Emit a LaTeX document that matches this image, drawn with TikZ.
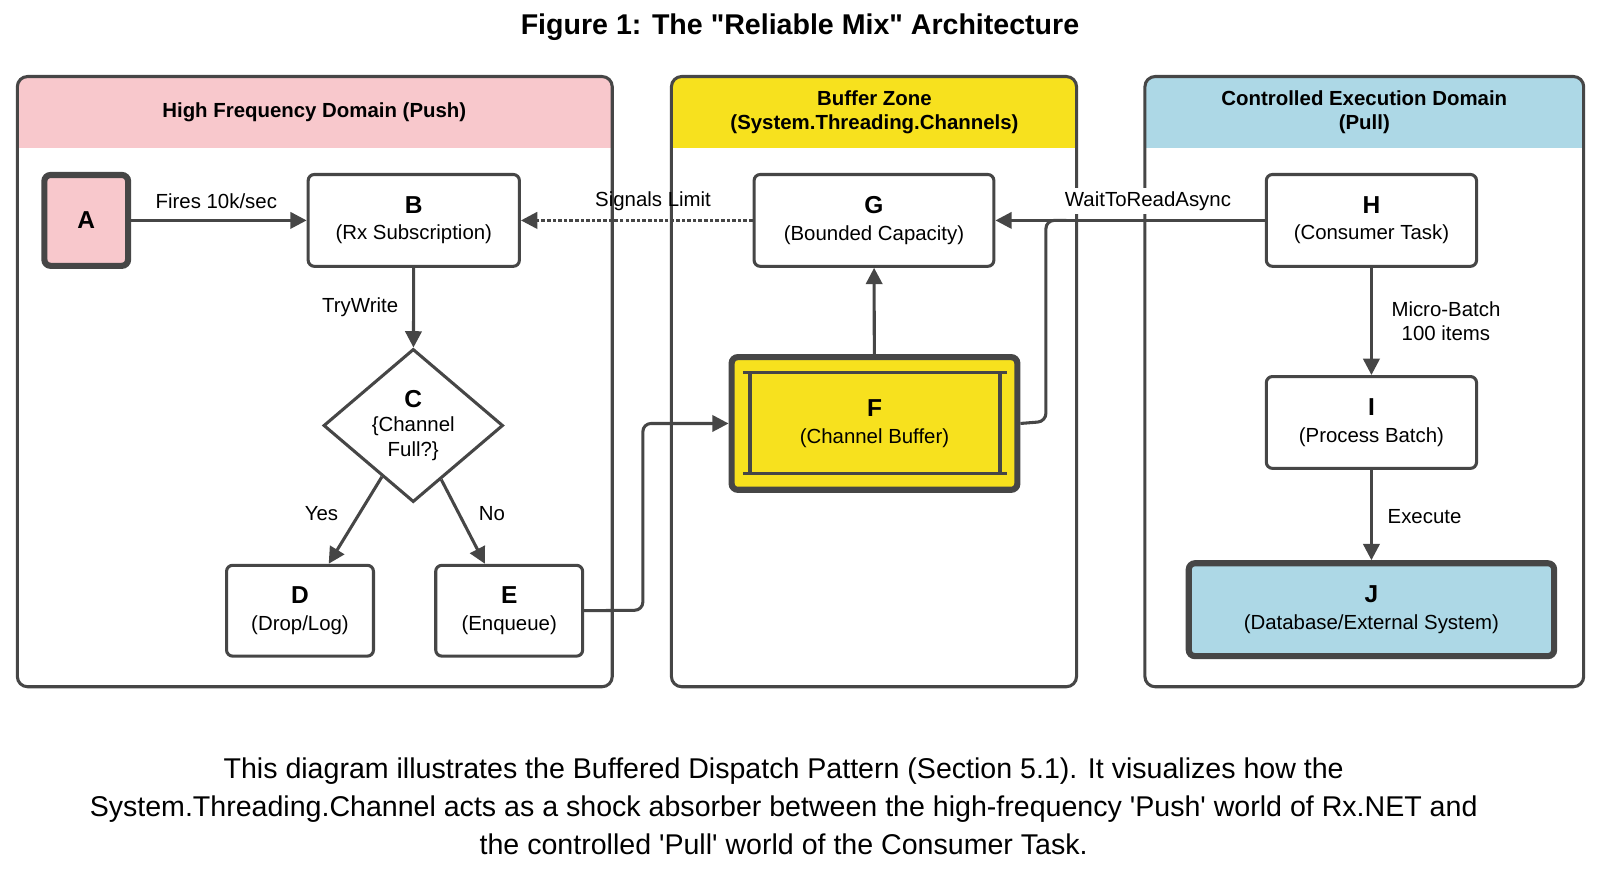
\documentclass[tikz,border=0pt]{standalone}
\usepackage{fontspec}
\setmainfont{Liberation Sans}
\usetikzlibrary{shapes.geometric,arrows.meta}
\definecolor{ln}{RGB}{70,70,70}
\definecolor{pinkh}{RGB}{248,200,204}
\definecolor{yelh}{RGB}{247,225,30}
\definecolor{blueh}{RGB}{173,216,230}
\tikzset{
 box/.style={draw=ln,line width=3pt,rounded corners=6pt,fill=white,align=center,font=\fontsize{20}{26}\selectfont,inner sep=0pt},
 panel/.style={draw=ln,line width=3pt,rounded corners=10pt},
 arr/.style={draw=ln,line width=3pt,-{Triangle[length=16pt,width=16pt]},rounded corners=8pt},
 lbl/.style={font=\fontsize{20}{24}\selectfont,align=center},
 hdr/.style={font=\bfseries\fontsize{20}{24}\selectfont,align=center}
}
\begin{document}
\begin{tikzpicture}[x=1pt,y=-1pt]
\useasboundingbox (0,0) rectangle (1568,855.5);
\node[font=\bfseries\fontsize{28}{32}\selectfont] (title) at (784,27) {Figure 1: The \textquotedbl Reliable Mix\textquotedbl{} Architecture};
% panels
\begin{scope}
\clip[rounded corners=10pt] (17,75) rectangle (600,673);
\fill[pinkh] (17,75) rectangle (600,145);
\end{scope}
\draw[panel] (17,75) rectangle (600,673);
\node[hdr] (h1) at (308,110) {High Frequency Domain (Push)};
\begin{scope}
\clip[rounded corners=10pt] (658,75) rectangle (1055,673);
\fill[yelh] (658,75) rectangle (1055,145);
\end{scope}
\draw[panel] (658,75) rectangle (1055,673);
\node[hdr] (h2) at (857,110) {Buffer Zone\\(System.Threading.Channels)};
\begin{scope}
\clip[rounded corners=10pt] (1122,75) rectangle (1552,673);
\fill[blueh] (1122,75) rectangle (1552,145);
\end{scope}
\draw[panel] (1122,75) rectangle (1552,673);
\node[hdr] (h3) at (1337,110) {Controlled Execution Domain\\(Pull)};
% nodes
\node[box,fill=pinkh,line width=6pt,minimum width=82pt,minimum height=89pt,font=\bfseries\fontsize{24}{28}\selectfont] (A) at (84.5,216) {A};
\node[box,minimum width=207pt,minimum height=90pt] (B) at (405.5,216) {\textbf{\fontsize{24}{28}\selectfont B}\\(Rx Subscription)};
\node[draw=ln,line width=3pt,diamond,fill=white,minimum width=176pt,minimum height=146pt,inner sep=0pt,align=center,font=\fontsize{20}{24}\selectfont] (C) at (405,417) {\textbf{\fontsize{24}{28}\selectfont C}\\\{Channel\\Full?\}};
\node[box,minimum width=144pt,minimum height=89pt] (D) at (294,598.5) {\textbf{\fontsize{24}{28}\selectfont D}\\(Drop/Log)};
\node[box,minimum width=144pt,minimum height=89pt] (E) at (499,598.5) {\textbf{\fontsize{24}{28}\selectfont E}\\(Enqueue)};
\node[box,minimum width=235pt,minimum height=90pt] (G) at (856.5,216) {\textbf{\fontsize{24}{28}\selectfont G}\\(Bounded Capacity)};
\node[box,fill=yelh,line width=6pt,minimum width=280pt,minimum height=130pt] (F) at (857,415) {\textbf{\fontsize{24}{28}\selectfont F}\\(Channel Buffer)};
\draw[ln,line width=3pt] (728,365) -- (987,365) (728,464) -- (987,464) (735,365) -- (735,464) (980,365) -- (980,464);
\node[box,minimum width=206pt,minimum height=90pt] (H) at (1344,216) {\textbf{\fontsize{24}{28}\selectfont H}\\(Consumer Task)};
\node[box,minimum width=206pt,minimum height=90pt] (I) at (1344,414) {\textbf{\fontsize{24}{28}\selectfont I}\\(Process Batch)};
\node[box,fill=blueh,line width=6pt,minimum width=358pt,minimum height=91pt] (J) at (1344,597.5) {\textbf{\fontsize{24}{28}\selectfont J}\\(Database/External System)};
% edges
\draw[arr] (A) -- (B);
\node[lbl] (lA) at (212,197) {Fires 10k/sec};
\draw[draw=ln,line width=3.5pt,dotted] (G.west) -- ([xshift=14pt]B.east);
\draw[arr] ([xshift=16pt]B.east) -- (B.east);
\node[lbl] (lG) at (640,197) {Signals Limit};
\draw[arr] (B) -- (C);
\node[lbl] (lB) at (353,301) {TryWrite};
\draw[arr] (C) -- (D);
\node[lbl] (lY) at (315,503) {Yes};
\draw[arr] (C) -- (E);
\node[lbl] (lN) at (482,503) {No};
\draw[arr] (E.east) -- (630,598) -- (630,415) -- (F.west);
\draw[arr] (F) -- (G);
\draw[arr] (H.west) -- (G.east);
\draw[draw=ln,line width=3pt,rounded corners=8pt] (F.east) -- (1025,413) -- (1025,216) -- (1045,216);
\node[lbl,fill=white,inner sep=3pt] (lH) at (1125,197) {WaitToReadAsync};
\draw[arr] (H) -- (I);
\node[lbl] (lM) at (1417,315) {Micro-Batch\\100 items};
\draw[arr] (I) -- (J);
\node[lbl] (lI) at (1396,506) {Execute};
% caption
\node[font=\fontsize{28}{37}\selectfont,align=center] (cap) at (768,790) {This diagram illustrates the Buffered Dispatch Pattern (Section 5.1). It visualizes how the\\System.Threading.Channel acts as a shock absorber between the high-frequency \textquotesingle Push\textquotesingle{} world of Rx.NET and\\the controlled \textquotesingle Pull\textquotesingle{} world of the Consumer Task.};
\end{tikzpicture}
\end{document}
